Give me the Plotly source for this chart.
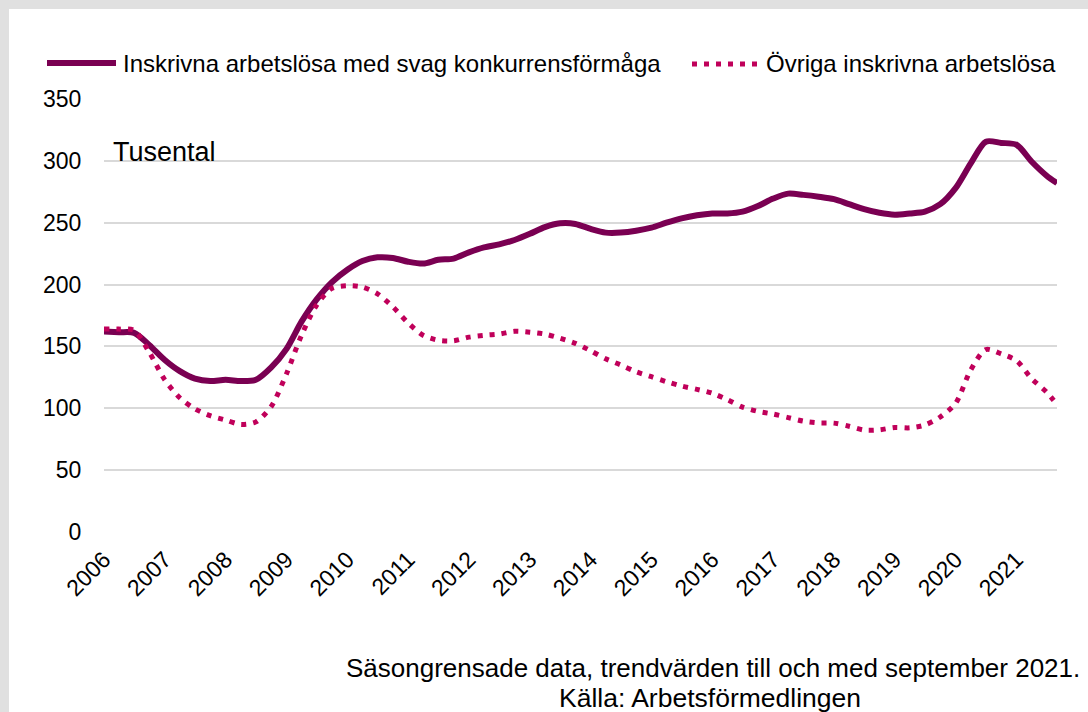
import plotly.graph_objects as go

# ---- data (thousands) ----
month_offsets = [0, 3, 6, 9, 12, 15, 18, 21, 24, 27, 30, 33, 36, 39, 42, 45, 48, 51, 54, 57,
                 60, 63, 66, 69, 72, 75, 78, 81, 84, 87, 90, 93, 96, 99, 102, 105, 108, 111,
                 114, 117, 120, 123, 126, 129, 132, 135, 138, 141, 144, 147, 150, 153, 156,
                 159, 162, 165, 168, 171, 174, 177, 180, 183, 186, 188]
dates = [f"{2006 + m // 12}-{m % 12 + 1:02d}-01" for m in month_offsets]

svag = [162, 161.5, 161, 151, 139, 130, 124, 122, 123, 122, 123, 133, 148, 170, 188, 202,
        212, 219, 222, 221.5, 218.5, 217, 220, 221, 226, 230, 232.5, 236, 241, 246.5, 249.5,
        249, 245, 242, 242, 243.5, 246, 250, 253.5, 256, 257.5, 257.5, 259, 263.5, 269.5,
        273.5, 272.5, 271, 269, 265, 261, 258, 256.5, 257.5, 259, 265, 278, 298, 315.5,
        314.5, 313, 299.5, 288, 282]

ovriga = [164, 164, 163, 145, 123, 108.5, 99.5, 94, 90.5, 87, 89, 101.5, 128, 159, 183.5,
          197, 199, 198, 192.5, 182, 169, 159, 155, 154.6, 157.5, 159, 160, 162.2, 161.5,
          160, 156.7, 152.5, 146.5, 140, 135, 129.5, 125.5, 121.5, 118, 115.3, 112.2, 107,
          101, 97.5, 95.3, 92.5, 89.6, 88.2, 88, 85.5, 82.4, 82.6, 84.5, 84.2, 86.5, 93,
          104, 131, 147.5, 144, 138.5, 124, 113, 103]

name_svag = "Inskrivna arbetslösa med svag konkurrensförmåga"
name_ovriga = "Övriga inskrivna arbetslösa"
y_ticks = [0, 50, 100, 150, 200, 250, 300, 350]
year_ticks = [str(y) for y in range(2006, 2022)]

c_svag = "#7a0052"
c_ovriga = "#c0005a"
FONT = "Liberation Sans, Arial, sans-serif"

# ---- geometry (pixels) ----
W, H = 1088, 712
L, R, T, B = 104, 1057, 99, 532
pw, ph = R - L, B - T


def px(x):
    return (x - L) / pw


def py(y):
    return (B - y) / ph


fig = go.Figure()
fig.add_trace(go.Scatter(x=dates, y=svag, mode="lines", name=name_svag,
                         line=dict(color=c_svag, width=6, shape="spline", smoothing=0.8),
                         showlegend=False))
fig.add_trace(go.Scatter(x=dates, y=ovriga, mode="lines", name=name_ovriga,
                         line=dict(color=c_ovriga, width=5, shape="spline", smoothing=0.8,
                                   dash="5px,7px"),
                         showlegend=False))

shapes = [
    # grey frame (top and left)
    dict(type="rect", xref="paper", yref="paper", x0=px(-20), x1=px(W + 20),
         y0=py(9), y1=py(-20), fillcolor="#e0e0e0", line=dict(width=0), layer="below"),
    dict(type="rect", xref="paper", yref="paper", x0=px(-20), x1=px(9),
         y0=py(H + 20), y1=py(-20), fillcolor="#e0e0e0", line=dict(width=0), layer="below"),
    # legend samples
    dict(type="line", xref="paper", yref="paper", x0=px(47), x1=px(116), y0=py(63), y1=py(63),
         line=dict(color=c_svag, width=6)),
    dict(type="line", xref="paper", yref="paper", x0=px(692), x1=px(764), y0=py(64), y1=py(64),
         line=dict(color=c_ovriga, width=5, dash="5px,7px")),
]

annotations = [
    dict(text=name_svag, xref="paper", yref="paper", x=px(121), y=py(63),
         xanchor="left", yanchor="middle", showarrow=False,
         font=dict(family=FONT, size=24, color="#000000")),
    dict(text=name_ovriga, xref="paper", yref="paper", x=px(1058), y=py(63),
         xanchor="right", yanchor="middle", showarrow=False,
         font=dict(family=FONT, size=24, color="#000000")),
    dict(text="Tusental", xref="paper", yref="paper", x=px(111), y=py(152),
         xanchor="left", yanchor="middle", showarrow=False,
         font=dict(family=FONT, size=27, color="#000000")),
    dict(text="Säsongrensade data, trendvärden till och med september 2021.",
         xref="paper", yref="paper", x=px(713), y=py(668),
         xanchor="center", yanchor="middle", showarrow=False,
         font=dict(family=FONT, size=26, color="#000000")),
    dict(text="Källa: Arbetsförmedlingen",
         xref="paper", yref="paper", x=px(710), y=py(698),
         xanchor="center", yanchor="middle", showarrow=False,
         font=dict(family=FONT, size=26.5, color="#000000")),
]

fig.update_layout(
    width=W, height=H,
    margin=dict(l=L, r=W - R, t=T, b=H - B, pad=0),
    paper_bgcolor="#ffffff", plot_bgcolor="#ffffff",
    shapes=shapes, annotations=annotations,
    font=dict(family=FONT, size=23, color="#000000"),
    xaxis=dict(
        type="date", range=[dates[0], dates[-1]],
        tickmode="array",
        tickvals=[f"{y}-01-01" for y in year_ticks],
        ticktext=year_ticks, tickangle=-45,
        showgrid=False, zeroline=False, showline=False,
        ticks="outside", ticklen=4, tickcolor="rgba(0,0,0,0)",
        tickfont=dict(family=FONT, size=23, color="#000000"),
    ),
    yaxis=dict(
        range=[0, 350], tickvals=y_ticks,
        showgrid=True, gridcolor="#d9d9d9", gridwidth=1.5,
        zeroline=False, showline=False,
        ticks="outside", ticklen=17, tickcolor="rgba(0,0,0,0)",
        tickfont=dict(family=FONT, size=23, color="#000000"),
    ),
)

fig.write_html("out.html", config={"displayModeBar": False},
               post_script="document.body.style.margin='0';document.body.style.overflow='hidden';")
